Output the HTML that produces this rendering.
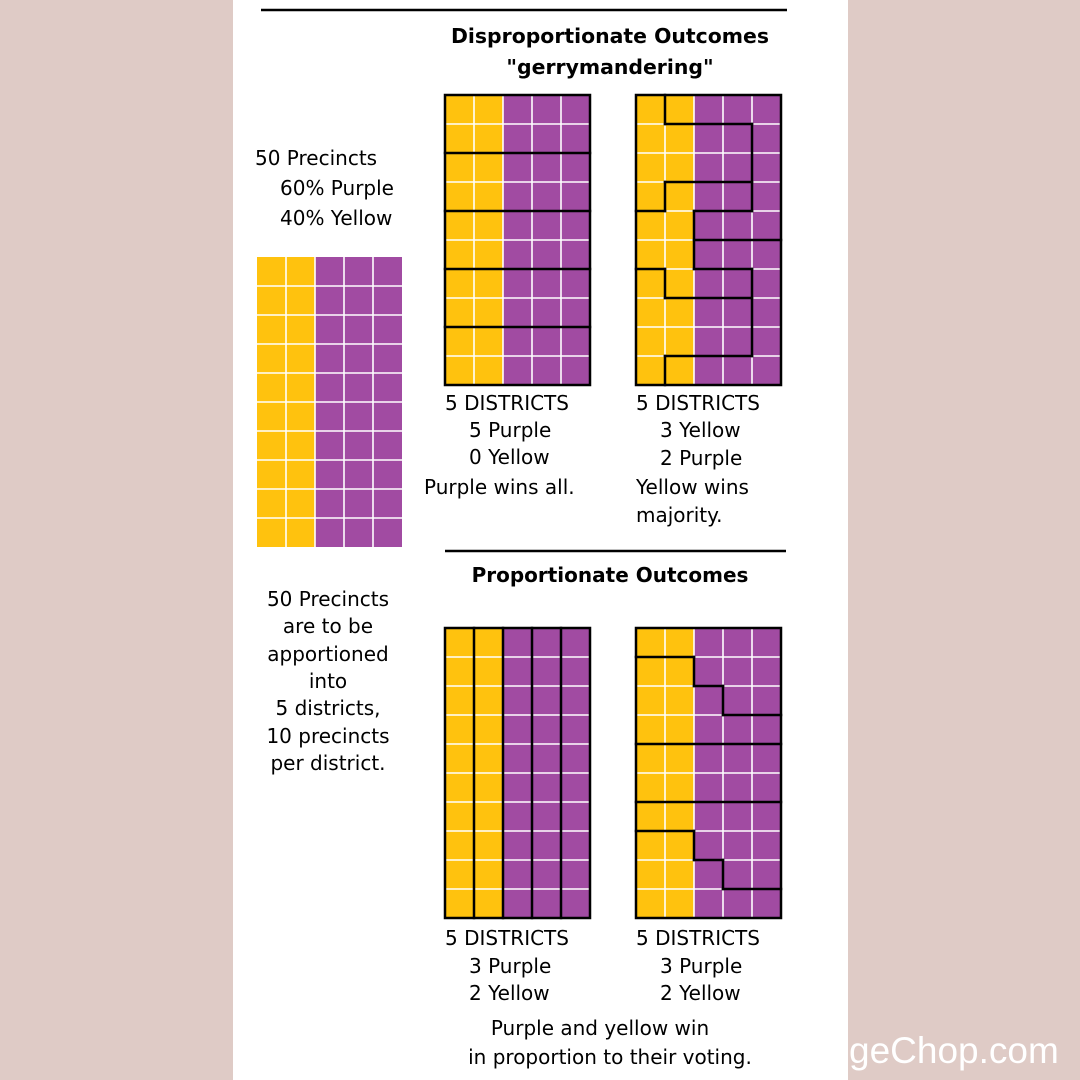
<!DOCTYPE html>
<html><head><meta charset="utf-8"><style>
html,body{margin:0;padding:0;background:#dfcbc6;}
svg{display:block;}
text{font-family:"DejaVu Sans","Liberation Sans",sans-serif;font-size:20px;fill:#000;}
.b{font-weight:bold;}
</style></head><body>
<svg id="s" width="1080" height="1080" viewBox="0 0 1080 1080" xmlns="http://www.w3.org/2000/svg">
<rect x="0" y="0" width="1080" height="1080" fill="#dfcbc6"/>
<rect x="233" y="0" width="615" height="1080" fill="#fff"/>
<line x1="261" y1="10" x2="787" y2="10" stroke="#000" stroke-width="2.5"/>
<line x1="445" y1="551" x2="786" y2="551" stroke="#000" stroke-width="2.5"/>
<text class="b" x="610" y="43" text-anchor="middle" style="font-size:20.4px">Disproportionate Outcomes</text>
<text class="b" x="610" y="74" text-anchor="middle" style="font-size:20.4px">"gerrymandering"</text>
<text class="b" x="610" y="582" text-anchor="middle">Proportionate Outcomes</text>
<text x="255" y="165">50 Precincts</text>
<text x="280" y="195">60% Purple</text>
<text x="280" y="225">40% Yellow</text>
<g text-anchor="middle">
<text x="328" y="606">50 Precincts</text>
<text x="328" y="633">are to be</text>
<text x="328" y="661">apportioned</text>
<text x="328" y="688">into</text>
<text x="328" y="715">5 districts,</text>
<text x="328" y="743">10 precincts</text>
<text x="328" y="770">per district.</text>
<text x="600" y="1035">Purple and yellow win</text>
<text x="610" y="1064">in proportion to their voting.</text>
</g>
<text x="445" y="410">5 DISTRICTS</text>
<text x="469" y="437">5 Purple</text>
<text x="469" y="464">0 Yellow</text>
<text x="424" y="494">Purple wins all.</text>
<text x="636" y="410">5 DISTRICTS</text>
<text x="660" y="437">3 Yellow</text>
<text x="660" y="465">2 Purple</text>
<text x="636" y="494">Yellow wins</text>
<text x="636" y="522">majority.</text>
<text x="445" y="945">5 DISTRICTS</text>
<text x="469" y="973">3 Purple</text>
<text x="469" y="1000">2 Yellow</text>
<text x="636" y="945">5 DISTRICTS</text>
<text x="660" y="973">3 Purple</text>
<text x="660" y="1000">2 Yellow</text>
<text x="849" y="1063" style="font-size:37px;fill:#fff;font-family:'Liberation Sans','DejaVu Sans',sans-serif">geChop.com</text>
<g id="grids"></g>
</svg>
<script>
var NS="http://www.w3.org/2000/svg",g=document.getElementById("grids"),C=29;
function el(n,a){var e=document.createElementNS(NS,n);for(var k in a)e.setAttribute(k,a[k]);g.appendChild(e);return e;}
function grid(x0,y0,border){
 el("rect",{x:x0,y:y0,width:2*C,height:10*C,fill:"#ffc20e"});
 el("rect",{x:x0+2*C,y:y0,width:3*C,height:10*C,fill:"#a14ba2"});
 for(var i=1;i<5;i++)el("line",{x1:x0+i*C,y1:y0,x2:x0+i*C,y2:y0+10*C,stroke:"#fff","stroke-width":1.6});
 for(var j=1;j<10;j++)el("line",{x1:x0,y1:y0+j*C,x2:x0+5*C,y2:y0+j*C,stroke:"#fff","stroke-width":1.6});
 if(border)el("rect",{x:x0,y:y0,width:5*C,height:10*C,fill:"none",stroke:"#000","stroke-width":2.5});
}
function lines(x0,y0,segs){segs.forEach(function(s){el("line",{x1:x0+s[0]*C,y1:y0+s[1]*C,x2:x0+s[2]*C,y2:y0+s[3]*C,stroke:"#000","stroke-width":2.5,"stroke-linecap":"square"});});}
grid(257,257,false);
grid(445,95,true);lines(445,95,[[0,2,5,2],[0,4,5,4],[0,6,5,6],[0,8,5,8]]);
grid(636,95,true);lines(636,95,[[1,0,1,1],[1,1,4,1],[4,1,4,4],[1,3,4,3],[1,3,1,4],[0,4,1,4],[2,4,4,4],[2,4,2,6],[2,5,5,5],[0,6,1,6],[2,6,4,6],[1,6,1,7],[1,7,4,7],[4,6,4,9],[1,9,4,9],[1,9,1,10]]);
grid(445,628,true);lines(445,628,[[1,0,1,10],[2,0,2,10],[3,0,3,10],[4,0,4,10]]);
grid(636,628,true);lines(636,628,[[0,1,2,1],[2,1,2,2],[2,2,3,2],[3,2,3,3],[3,3,5,3],[0,4,5,4],[0,6,5,6],[0,7,2,7],[2,7,2,8],[2,8,3,8],[3,8,3,9],[3,9,5,9]]);
</script>
</body></html>
